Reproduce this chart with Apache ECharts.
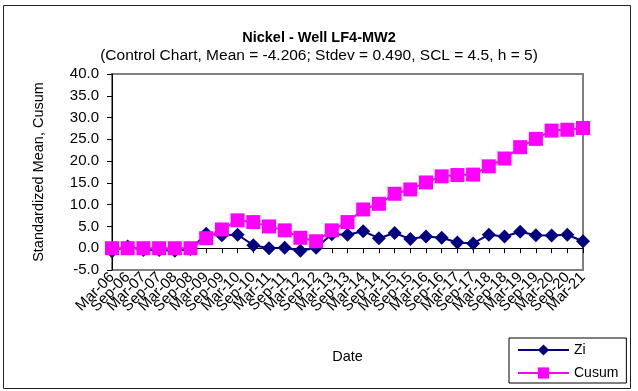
<!DOCTYPE html>
<html>
<head>
<meta charset="utf-8">
<script src="https://cdn.jsdelivr.net/npm/echarts@6/dist/echarts.min.js"></script>
<style>
html,body{margin:0;padding:0;background:#fff;}
#chart{width:638px;height:391px;}
</style>
</head>
<body>
<div id="chart"></div>
<script>
const categories = ['Mar-06','Sep-06','Mar-07','Sep-07','Mar-08','Sep-08','Mar-09','Sep-09','Mar-10','Sep-10',
  'Mar-11','Sep-11','Mar-12','Sep-12','Mar-13','Sep-13','Mar-14','Sep-14','Mar-15','Sep-15',
  'Mar-16','Sep-16','Mar-17','Sep-17','Mar-18','Sep-18','Mar-19','Sep-19','Mar-20','Sep-20','Mar-21'];
const zi = [-0.7, 0.4, -0.4, -0.4, -0.6, -0.2, 3.3, 3.0, 3.1, 0.7, 0.0, 0.1, -0.6, 0.1, 3.2, 3.1, 3.9, 2.3, 3.5, 2.1,
  2.7, 2.4, 1.3, 1.1, 3.1, 2.7, 3.8, 3.0, 2.9, 3.1, 1.6];
const cusum = [0, 0, 0, 0, 0, 0, 2.3, 4.3, 6.4, 6.0, 5.0, 4.1, 2.4, 1.6, 4.1, 6.0, 8.9, 10.2, 12.5, 13.5,
  15.1, 16.5, 16.8, 16.9, 18.8, 20.6, 23.2, 25.1, 27.0, 27.2, 27.6];
const yTicks = { min: -5, max: 40, interval: 5 };

const FONT = 'Liberation Sans, Arial, sans-serif';
const chart = echarts.init(document.getElementById('chart'), null, { renderer: 'canvas' });
chart.setOption({
  backgroundColor: '#fff',
  animation: false,
  title: {
    text: 'Nickel - Well LF4-MW2',
    subtext: '(Control Chart, Mean = -4.206; Stdev = 0.490, SCL = 4.5, h = 5)',
    left: 'center',
    top: 25,
    itemGap: 3,
    textStyle: { fontFamily: FONT, fontSize: 14.5, fontWeight: 'bold', color: '#000' },
    subtextStyle: { fontFamily: FONT, fontSize: 15.5, color: '#000' }
  },
  graphic: [{
    type: 'rect',
    shape: { x: 3.5, y: 5.5, width: 627, height: 383 },
    style: { fill: 'none', stroke: '#222', lineWidth: 1 },
    silent: true
  }],
  legend: {
    left: 509,
    top: 338,
    orient: 'vertical',
    backgroundColor: '#fff',
    borderColor: '#000',
    borderWidth: 1,
    padding: [5, 8, 3, 8],
    itemWidth: 51,
    itemHeight: 14,
    itemGap: 9,
    textStyle: { fontFamily: FONT, fontSize: 14, color: '#000' },
    data: ['Zi', 'Cusum']
  },
  grid: {
    left: 112, right: 55, top: 74, bottom: 121,
    show: true, borderColor: '#808080', borderWidth: 2, backgroundColor: '#fff'
  },
  xAxis: {
    type: 'category',
    data: categories,
    boundaryGap: false,
    name: 'Date',
    nameLocation: 'middle',
    nameGap: 79,
    nameTextStyle: { fontFamily: FONT, fontSize: 14.5, color: '#000' },
    axisLine: { lineStyle: { color: '#000', width: 1 } },
    axisTick: { show: true, interval: 0, length: 5, lineStyle: { color: '#000' } },
    axisLabel: { interval: 0, rotate: 45, margin: 5, fontFamily: FONT, fontSize: 15, color: '#000' },
    splitLine: { show: false }
  },
  yAxis: {
    type: 'value',
    min: yTicks.min, max: yTicks.max, interval: yTicks.interval,
    name: 'Standardized Mean, Cusum',
    nameLocation: 'middle',
    nameGap: 66,
    nameRotate: 90,
    nameTextStyle: { fontFamily: FONT, fontSize: 14.5, color: '#000' },
    axisLine: { show: true, lineStyle: { color: '#000', width: 1 } },
    axisTick: { show: true, length: 5, lineStyle: { color: '#000' } },
    axisLabel: { margin: 13, fontFamily: FONT, fontSize: 15, color: '#000',
      formatter: v => v.toFixed(1) },
    splitLine: { show: false }
  },
  series: [
    {
      name: 'Zi', type: 'line', data: zi,
      symbol: 'diamond', symbolSize: [14, 14],
      lineStyle: { color: '#000080', width: 2 },
      itemStyle: { color: '#000080' },
      z: 2
    },
    {
      name: 'Cusum', type: 'line', data: cusum,
      symbol: 'rect', symbolSize: 14,
      lineStyle: { color: '#FF00FF', width: 2 },
      itemStyle: { color: '#FF00FF' },
      z: 3
    }
  ]
});
</script>
</body>
</html>
